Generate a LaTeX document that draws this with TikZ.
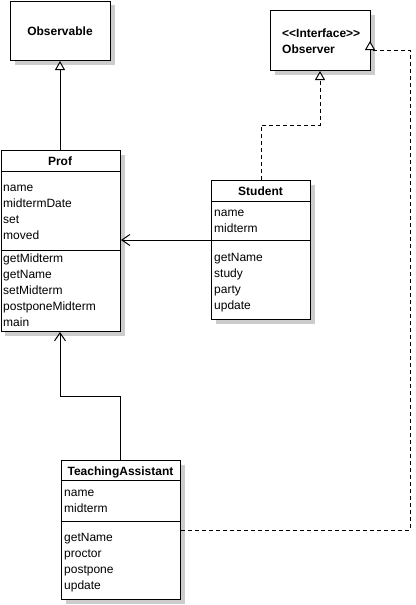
\documentclass[tikz,border=0pt]{standalone}
\usepackage{fontspec}
\setmainfont{Liberation Sans}
\usetikzlibrary{arrows.meta,shadows}
\begin{document}
\begin{tikzpicture}[x=1pt,y=-1pt,
  cls/.style={draw, line width=1pt, fill=white, anchor=north west, inner sep=0pt,
    drop shadow={shadow xshift=4pt, shadow yshift=-4pt, fill=black!20, opacity=1}},
  sep/.style={line width=1pt},
  lbl/.style={anchor=base west, inner sep=0pt, font=\fontsize{12}{14}\selectfont},
  hdr/.style={anchor=base, inner sep=0pt, font=\fontsize{12}{14}\selectfont\bfseries},
  conn/.style={line width=1pt},
  dconn/.style={line width=1pt, dash pattern=on 4pt off 3pt},
  gen/.style={-{Triangle[open, length=9pt, width=10pt, fill=white]}},
  assoc/.style={-{Straight Barb[length=8pt, width=11pt, line width=1pt]}}
]
\useasboundingbox (0,0) rectangle (415,605);

% Observable
\node[cls, minimum width=100pt, minimum height=59.5pt] (observable) at (10,0.5) {};
\node[hdr] (observablet) at (60,35) {Observable};

% Observer
\node[cls, minimum width=100pt, minimum height=60pt] (observer) at (270,10) {};
\node[lbl, font=\fontsize{12}{14}\selectfont\bfseries] (observeri) at (282,37) {<{}<Interface>{}>};
\node[lbl, font=\fontsize{12}{14}\selectfont\bfseries] (observert) at (282,53) {Observer};

% Prof
\node[cls, minimum width=119.5pt, minimum height=181pt] (prof) at (0.5,150) {};
\draw[sep] (0.5,171) -- (120,171);
\draw[sep] (0.5,250) -- (120,250);
\node[hdr] (proft) at (60,165) {Prof};
\node[lbl] (pa1) at (3,191) {name};
\node[lbl] (pa2) at (3,207) {midtermDate};
\node[lbl] (pa3) at (3,223) {set};
\node[lbl] (pa4) at (3,239) {moved};
\node[lbl] (pm1) at (3,262) {getMidterm};
\node[lbl] (pm2) at (3,278) {getName};
\node[lbl] (pm3) at (3,294) {setMidterm};
\node[lbl] (pm4) at (3,310) {postponeMidterm};
\node[lbl] (pm5) at (3,326) {main};

% Student
\node[cls, minimum width=99pt, minimum height=139pt] (student) at (211,180) {};
\draw[sep] (211,201) -- (310,201);
\draw[sep] (211,240) -- (310,240);
\node[hdr] (studentt) at (260.5,195) {Student};
\node[lbl] (sa1) at (214,216) {name};
\node[lbl] (sa2) at (214,232) {midterm};
\node[lbl] (sm1) at (214,261) {getName};
\node[lbl] (sm2) at (214,277) {study};
\node[lbl] (sm3) at (214,293) {party};
\node[lbl] (sm4) at (214,309) {update};

% TeachingAssistant
\node[cls, minimum width=119pt, minimum height=139pt] (ta) at (61,460) {};
\draw[sep] (61,480) -- (180,480);
\draw[sep] (61,521) -- (180,521);
\node[hdr] (tat) at (120.5,475) {TeachingAssistant};
\node[lbl] (ta1) at (64,496) {name};
\node[lbl] (ta2) at (64,512) {midterm};
\node[lbl] (tm1) at (64,541) {getName};
\node[lbl] (tm2) at (64,557) {proctor};
\node[lbl] (tm3) at (64,573) {postpone};
\node[lbl] (tm4) at (64,589) {update};

% connectors
\draw[conn, gen] (prof.north -| 60,0) -- (observable.south -| 60,0);
\draw[conn, assoc] (student.west |- 0,240) -- (prof.east |- 0,240);
\draw[dconn, gen] (student.north -| 261,0) -- (261,125) -- (320,125) -- (observer.south -| 320,0);
\draw[conn, assoc] (ta.north -| 120,0) -- (120,396) -- (60,396) -- (prof.south -| 60,0);
\coordinate (obsr) at (370,41);
\draw[dconn, gen] (ta.east |- 0,530) -- (410,530) -- (410,50) -- (370,50) -- (obsr);
\end{tikzpicture}
\end{document}
